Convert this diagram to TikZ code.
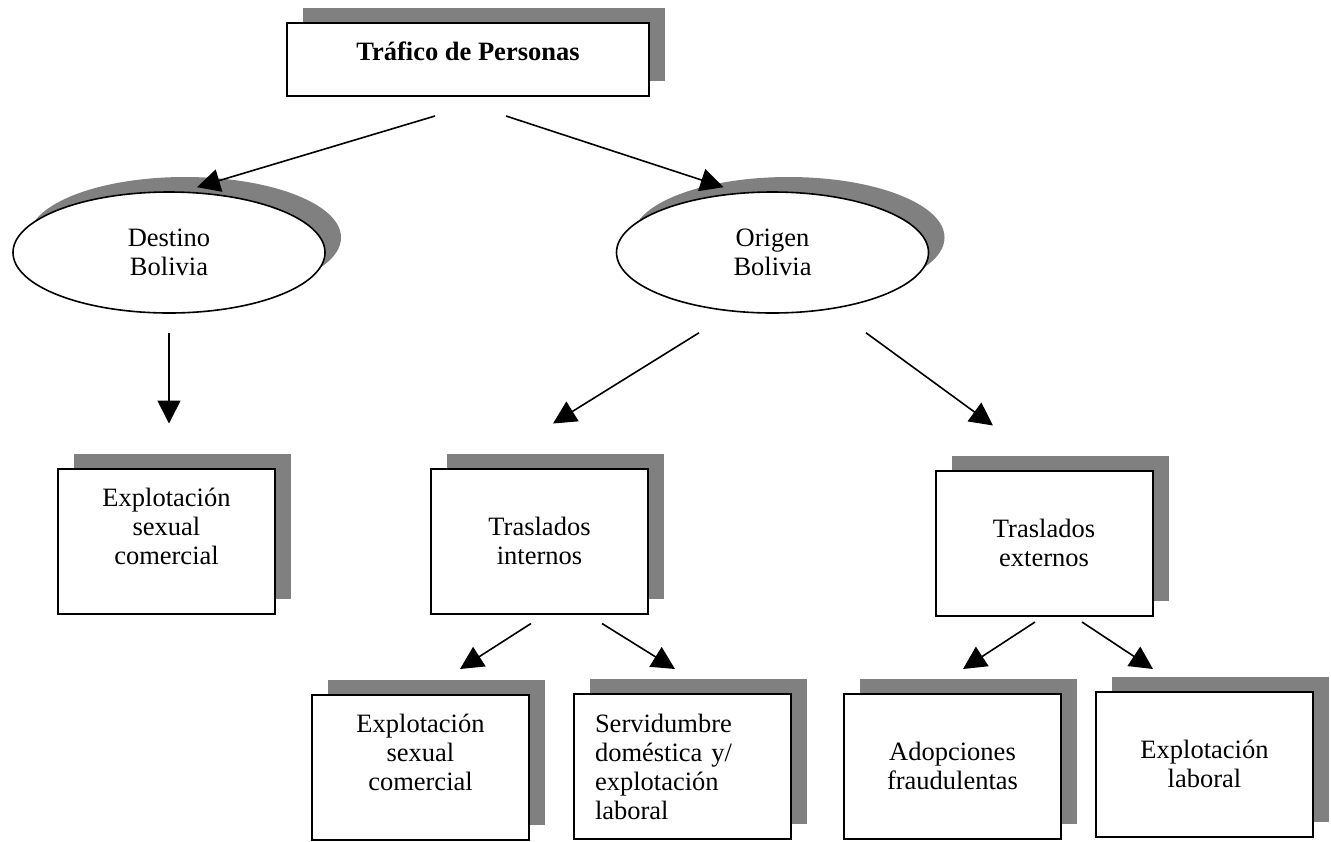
\documentclass[tikz,border=0pt]{standalone}
\usepackage{fontspec}
\setmainfont{Liberation Serif}
\usepackage{tikz}
\usetikzlibrary{arrows.meta, shapes, shadows, positioning}
\definecolor{shadowgray}{HTML}{808080}

\begin{document}
\begin{tikzpicture}[x=0.5pt, y=-0.5pt,
			font=\fontsize{13.25pt}{14.5pt}\selectfont,
			boxshadow/.style = {drop shadow={shadow xshift=8pt, shadow yshift=7.5pt, fill=shadowgray, opacity=1}},
			rec/.style  = {draw, rectangle, line width=1pt, fill=white, inner sep=0pt, align=center, minimum width=108.5pt, minimum height=72.5pt, boxshadow},
			root/.style = {rec, minimum width=181pt, minimum height=36.5pt, font=\fontsize{13.25pt}{14.5pt}\selectfont\bfseries, text depth=8pt},
			oval/.style = {draw, ellipse, line width=0.8pt, fill=white, inner sep=0pt, align=center, minimum width=156pt, minimum height=60.5pt, boxshadow},
			link/.style = {->, line width=0.8pt},
			>={Triangle[length=11.5pt, width=11.5pt]}]
			
			\useasboundingbox (0,0) rectangle (1331,841);
			
			% root and the two ovals
			\node[root] (trafico) at (468,59.5) {Tráfico de Personas};
			\node[oval] (destino) at (169,252.5) {Destino\\Bolivia};
			\node[oval] (origen) at (772.5,252.5) {Origen\\Bolivia};
			
			% second row of boxes
			\node[rec] (explot) at (166.5,541) {Explotación\\sexual\\comercial\\\mbox{}};
			\node[rec] (internos) at (539.5,541) {Traslados\\internos};
			\node[rec] (externos) at (1044,543) {Traslados\\externos};
			
			% last row of boxes
			\node[rec] (sexual) at (420.5,767) {Explotación\\sexual\\comercial\\\mbox{}};
			\node[rec, align=left, text width=87.5pt, inner xsep=10.5pt] (servidumbre) at (682.5,766.5) {Servidumbre\\doméstica y/\\explotación\\laboral};
			\node[rec] (adopciones) at (952.5,766) {Adopciones\\fraudulentas};
			\node[rec] (laboral) at (1204.5,764) {Explotación\\laboral};
			
			% arrows, they stop short of the nodes
			\draw[link] ([xshift=-16.5pt, yshift=-9.5pt]trafico.south) -- ([xshift=14pt, yshift=2pt]destino.north);
			\draw[link] ([xshift=19pt, yshift=-9.5pt]trafico.south) -- ([xshift=-24.5pt, yshift=2pt]origen.north);
			\draw[link] ([yshift=-9.5pt]destino.south) -- ([xshift=1.25pt, yshift=22pt]explot.north);
			\draw[link] ([xshift=-36.75pt, yshift=-9.5pt]origen.south) -- ([xshift=6.75pt, yshift=22pt]internos.north);
			\draw[link] ([xshift=46.75pt, yshift=-9.5pt]origen.south) -- ([xshift=-25.5pt, yshift=22pt]externos.north);
			
			\draw[link] ([xshift=-4.25pt, yshift=-4.5pt]internos.south) -- ([xshift=19.75pt, yshift=12.25pt]sexual.north);
			\draw[link] ([xshift=31.25pt, yshift=-4.5pt]internos.south) -- ([xshift=-3.75pt, yshift=12pt]servidumbre.north);
			\draw[link] ([xshift=-4.5pt, yshift=-2.75pt]externos.south) -- ([xshift=5.25pt, yshift=11.75pt]adopciones.north);
			\draw[link] ([xshift=19pt, yshift=-2.75pt]externos.south) -- ([xshift=-25.75pt, yshift=10.75pt]laboral.north);
		\end{tikzpicture}
\end{document}
